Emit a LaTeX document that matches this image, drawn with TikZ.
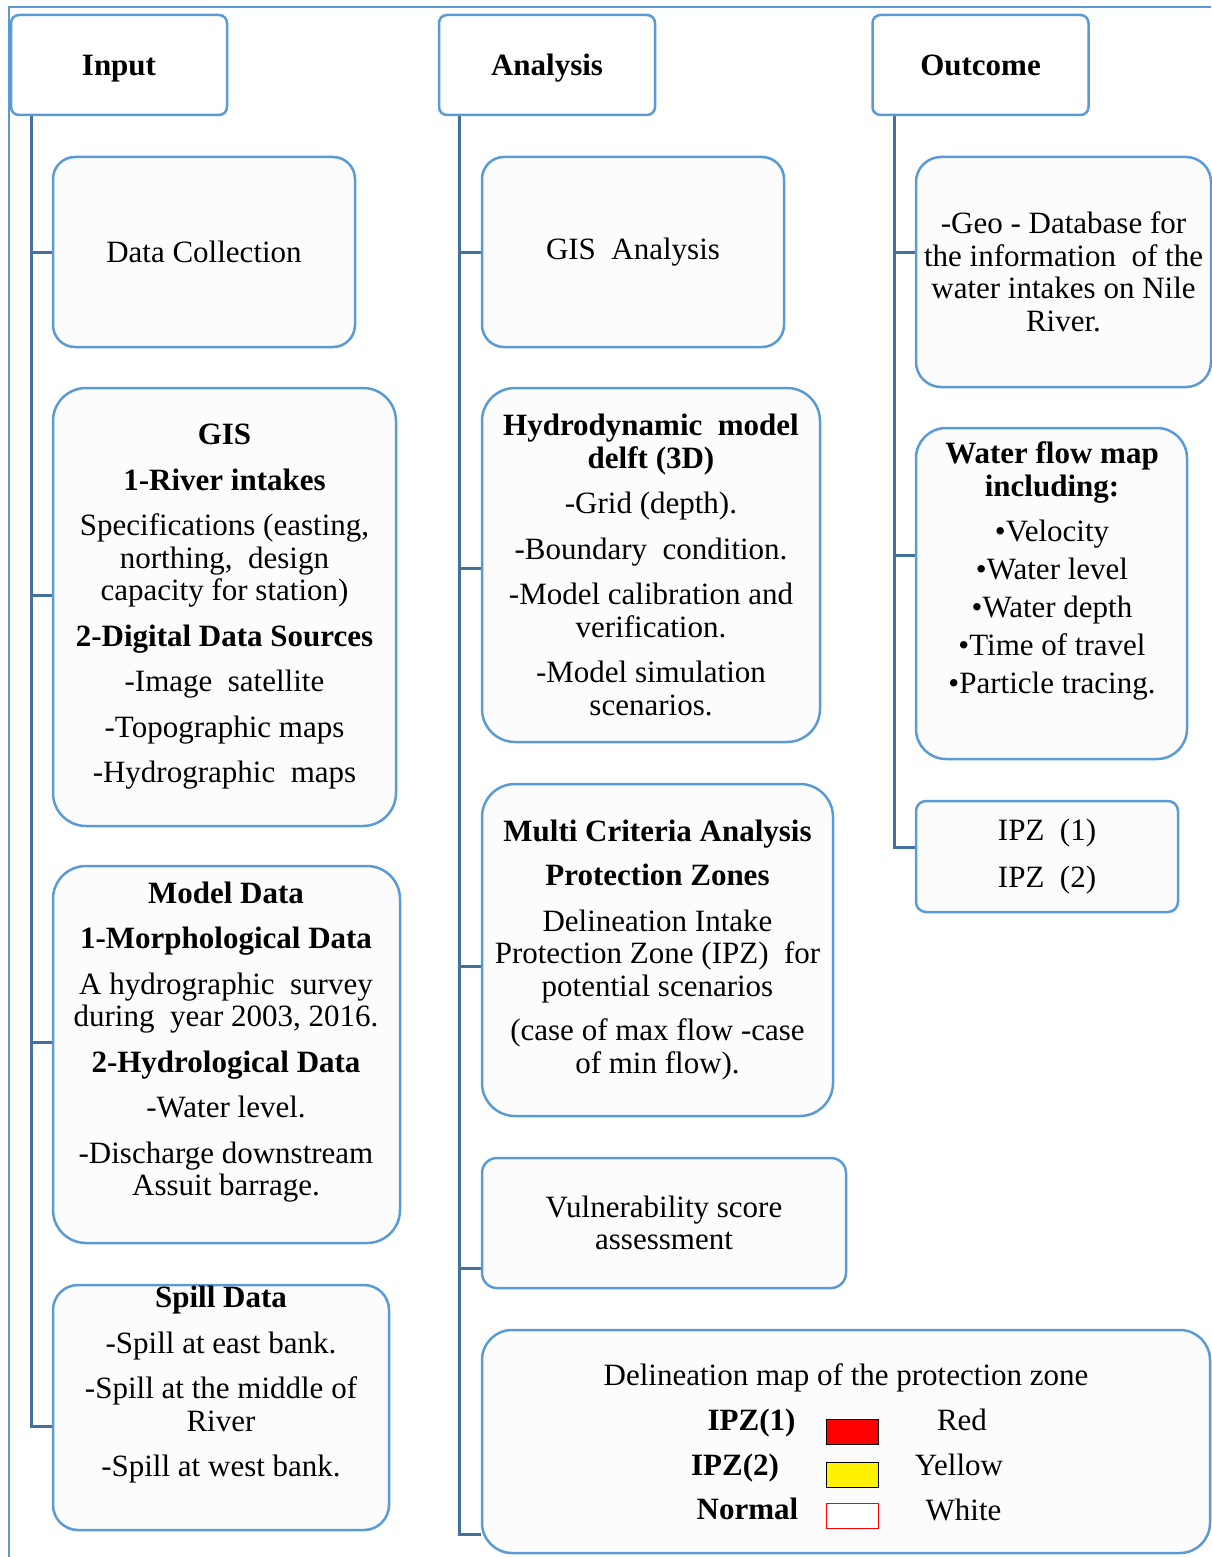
\documentclass[tikz,border=0pt]{standalone}
\usepackage{fontspec}
\setmainfont{Liberation Serif}
\usepackage{tikz}
\usetikzlibrary{calc,backgrounds}
\definecolor{edge}{HTML}{5B9BD5}
\definecolor{linkc}{HTML}{41719C}
\definecolor{boxbg}{HTML}{FCFCFC}
\newcommand{\diagfont}{\fontsize{31}{32.5}\selectfont}
\tikzset{
  head/.style={draw=edge, line width=2.5pt, fill=white, rounded corners=8pt,
    minimum width=216pt, minimum height=100pt, inner sep=0pt, text depth=0pt, font=\diagfont\bfseries},
  box/.style={draw=edge, line width=2.5pt, fill=boxbg, rounded corners=22pt,
    align=center, inner sep=0pt},
  txt/.style={align=center, inner sep=0pt},
  branch/.style={draw=linkc, line width=3pt},
  frame/.style={draw=edge, line width=2.5pt},
  swatch/.style={draw=black, line width=1pt, minimum width=52pt, minimum height=25pt, inner sep=0pt}
}

\begin{document}
\begin{tikzpicture}[x=1pt, y=-1pt, font=\diagfont]
  \useasboundingbox (0,0) rectangle (1211,1557);

  % column heads
  \node[head] (inHead)  at (119,65)   {Input};
  \node[head] (anHead)  at (547,65)   {Analysis};
  \node[head] (outHead) at (980.5,65) {Outcome};

  % input
  \node[box, minimum width=302pt, minimum height=190pt] (dataCol) at (204,252) {Data Collection};
  \node[box, rounded corners=33pt, minimum width=343pt, minimum height=438pt] (gisIn) at (224.5,607)
    {\textbf{GIS}\\[13pt] \textbf{1-River intakes}\\[13pt] Specifications (easting,\\ northing, \ design\\ capacity for station)\\[13pt]
     \textbf{2-Digital Data Sources}\\[13pt] -Image \ satellite\\[13pt] -Topographic maps\\[13pt] -Hydrographic \ maps};
  \node[box, rounded corners=33pt, minimum width=347pt, minimum height=377pt] (modelIn) at (226.5,1054.5) {};
  \node[txt] (modelTxt) at (226,1042)
    {\textbf{Model Data}\\[13pt] \textbf{1-Morphological Data}\\[13pt] A hydrographic \ survey\\ during \ year 2003, 2016.\\[13pt]
     \textbf{2-Hydrological Data}\\[13pt] -Water level.\\[13pt] -Discharge downstream\\ Assuit barrage.};
  \node[box, rounded corners=25pt, minimum width=336pt, minimum height=245pt] (spillIn) at (221,1407.5) {};
  \node[txt] (spillTxt) at (221,1385)
    {\textbf{Spill Data}\\[13pt] -Spill at east bank.\\[13pt] -Spill at the middle of\\ River\\[13pt] -Spill at west bank.};

  % analysis
  \node[box, minimum width=302pt, minimum height=190pt] (gisAn) at (633,252) {GIS \ Analysis};
  \node[box, rounded corners=33pt, minimum width=338pt, minimum height=354pt] (hydroAn) at (651,565)
    {\textbf{Hydrodynamic \ model}\\ \textbf{delft (3D)}\\[13pt] -Grid (depth).\\[13pt] -Boundary \ condition.\\[13pt]
     -Model calibration and\\ verification.\\[13pt] -Model simulation\\ scenarios.};
  \node[box, rounded corners=33pt, minimum width=351pt, minimum height=332pt] (mcaAn) at (657.5,950)
    {\textbf{Multi Criteria Analysis}\\[12pt] \textbf{Protection Zones}\\[13pt] Delineation Intake\\ Protection Zone (IPZ) \ for\\
     potential scenarios\\[12pt] (case of max flow -case\\ of min flow).};
  \node[box, rounded corners=15pt, minimum width=364pt, minimum height=130pt] (vulnAn) at (664,1223)
    {Vulnerability score\\ assessment};
  \node[box, rounded corners=30pt, minimum width=728pt, minimum height=223pt] (delinAn) at (846,1441.5) {};
  \node[txt, anchor=base] (delinTitle) at (846,1385) {Delineation map of the protection zone};
  \node[txt, anchor=base, font=\diagfont\bfseries] (ipzOne) at (751.5,1430) {IPZ(1)};
  \node[txt, anchor=base, font=\diagfont\bfseries] (ipzTwo) at (735,1475)   {IPZ(2)};
  \node[txt, anchor=base, font=\diagfont\bfseries] (normal) at (747.5,1519) {Normal};
  \node[swatch, fill=red]    (redSw)    at (852,1432)   {};
  \node[swatch, fill=yellow] (yellowSw) at (852,1474.5) {};
  \node[swatch, draw=red, fill=white] (whiteSw) at (852,1516) {};
  \node[txt, anchor=base] (redLab)    at (962,1430)   {Red};
  \node[txt, anchor=base] (yellowLab) at (959,1475)   {Yellow};
  \node[txt, anchor=base] (whiteLab)  at (963.5,1520) {White};

  % outcome
  \node[box, rounded corners=25pt, minimum width=295pt, minimum height=230pt] (geoOut) at (1063.5,272)
    {-Geo - Database for\\ the information \ of the\\ water intakes on Nile\\ River.};
  \node[box, rounded corners=30pt, minimum width=271pt, minimum height=331pt] (flowOut) at (1051.5,593.5) {};
  \node[txt] (flowTxt) at (1052,571)
    {\textbf{Water flow map}\\ \textbf{including:}\\[13pt] \textbullet Velocity\\[5.5pt] \textbullet Water level\\[5.5pt]
     \textbullet Water depth\\[5.5pt] \textbullet Time of travel\\[5.5pt] \textbullet Particle tracing.};
  \node[box, rounded corners=10pt, minimum width=262pt, minimum height=111pt] (ipzOut) at (1047,856.5)
    {IPZ \ (1)\\[14.5pt] IPZ \ (2)};

  \coordinate (inTop)  at ([xshift=22pt]inHead.south west);
  \coordinate (anTop)  at ([xshift=22pt]anHead.south west);
  \coordinate (outTop) at ([xshift=23pt]outHead.south west);

  \begin{scope}[on background layer]
    \draw[frame] (9,1557) -- (9,7) -- (1211,7);
    \foreach \b/\s in {dataCol/0pt, gisIn/12pt, modelIn/12.5pt, spillIn/-18.5pt}
      \draw[branch] (inTop) |- ([yshift=\s]\b.west);
    \foreach \b/\s in {gisAn/0pt, hydroAn/-3pt, mcaAn/-16pt, vulnAn/-45pt, delinAn/-92.5pt}
      \draw[branch] (anTop) |- ([yshift=\s]\b.west);
    \foreach \b/\s in {geoOut/20pt, flowOut/38.5pt, ipzOut/9.5pt}
      \draw[branch] (outTop) |- ([yshift=\s]\b.west);
  \end{scope}
\end{tikzpicture}
\end{document}
